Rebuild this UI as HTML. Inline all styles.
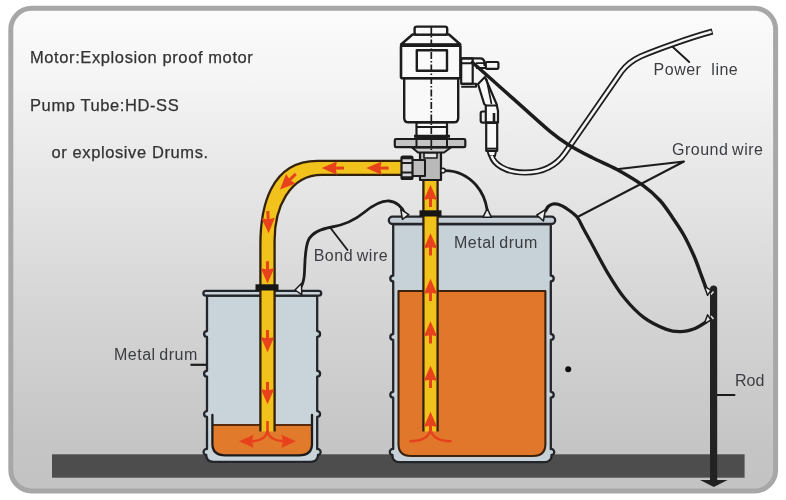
<!DOCTYPE html>
<html lang="en">
<head>
<meta charset="utf-8">
<title>Drum pump grounding diagram</title>
<style>
html,body{margin:0;padding:0;background:#fff;}
body{width:786px;height:500px;overflow:hidden;}
svg{display:block;}
svg text{font-family:"Liberation Sans",Arial,sans-serif;}
.lbl{font-size:16px;fill:#3b3d42;letter-spacing:0.5px;word-spacing:-1.2px;}
.big{font-size:16.5px;fill:#333;letter-spacing:0.6px;stroke:#333;stroke-width:0.25px;}
.ln{fill:none;stroke:#1c1c1c;stroke-linecap:round;stroke-linejoin:round;}
</style>
</head>
<body>
<svg width="786" height="500" viewBox="0 0 786 500">
<defs>
  <linearGradient id="bg" x1="0" y1="0" x2="0" y2="1">
    <stop offset="0.005" stop-color="#fbfbfb"/>
    <stop offset="0.069" stop-color="#f8f8f8"/>
    <stop offset="0.148" stop-color="#f5f5f5"/>
    <stop offset="0.252" stop-color="#ededed"/>
    <stop offset="0.397" stop-color="#e4e4e4"/>
    <stop offset="0.604" stop-color="#d6d6d6"/>
    <stop offset="0.782" stop-color="#cccccc"/>
    <stop offset="0.907" stop-color="#c5c5c5"/>
    <stop offset="0.996" stop-color="#c3c3c3"/>
  </linearGradient>
  <g id="arw">
    <path d="M0 -0.3 L6.7 15 L0 13.6 L-6.7 15 Z"/>
    <rect x="-1.5" y="12" width="3" height="10"/>
  </g>
  <clipPath id="cut2"><rect x="20" y="90" width="200" height="22"/></clipPath>
  <filter id="soft" x="-2%" y="-2%" width="104%" height="104%"><feGaussianBlur stdDeviation="0.5"/></filter>
</defs>

<!-- frame -->
<rect x="0" y="0" width="786" height="500" fill="#ffffff"/>
<g id="art" filter="url(#soft)">
<rect x="10.8" y="8.3" width="764.8" height="482.7" rx="21" ry="21" fill="url(#bg)" stroke="#a7a7a7" stroke-width="5"/>

<!-- ground -->
<rect x="52" y="454.3" width="692.6" height="23.4" fill="#4e4e4e"/>

<!-- ================= SMALL DRUM ================= -->
<g id="smalldrum">
  <path d="M207 295.5 L207 331.1 A2.9 2.9 0 0 0 207 336.9 L207 370.8 A2.9 2.9 0 0 0 207 376.6 L207 411.1 A2.9 2.9 0 0 0 207 416.9 L207 449 A3 3 0 0 0 206.2 455 Q206.2 461.8 213.5 461.8 L310.7 461.8 Q318.0 461.8 318.0 455 A3 3 0 0 0 317.2 449 L317.2 416.9 A2.9 2.9 0 0 0 317.2 411.1 L317.2 376.6 A2.9 2.9 0 0 0 317.2 370.8 L317.2 336.9 A2.9 2.9 0 0 0 317.2 331.1 L317.2 295.5 Z" fill="#c9d3da" stroke="#23262c" stroke-width="2.3" stroke-linejoin="round"/>
  <!-- liquid -->
  <path d="M212.4 425 L312 425 L312 444 Q312 455.3 299 455.3 L225.4 455.3 Q212.4 455.3 212.4 444 Z" fill="#e17a2c"/>
  <path d="M212.4 425 L312 425" stroke="#5a2c0c" stroke-width="2" fill="none"/>
  <!-- liner -->
  <path class="ln" d="M212.4 415 L212.4 444 Q212.4 455.3 225.4 455.3 L299 455.3 Q312 455.3 312 444 L312 415" stroke-width="2.3" stroke="#241a12"/>
  <!-- rim -->
  <rect x="203.4" y="290.9" width="117.8" height="4.8" rx="2.4" fill="#c9d2d9" stroke="#23262c" stroke-width="2.3"/>
</g>

<!-- ================= LARGE DRUM ================= -->
<g id="bigdrum">
  <path d="M393.2 224 L393.2 275.7 A2.9 2.9 0 0 0 393.2 281.5 L393.2 334.1 A2.9 2.9 0 0 0 393.2 339.9 L393.2 391.8 A2.9 2.9 0 0 0 393.2 397.6 L393.2 449 A3 3 0 0 0 392.4 455 Q392.4 462.2 399.7 462.2 L544.3 462.2 Q551.6 462.2 551.6 455 A3 3 0 0 0 550.8 449 L550.8 397.6 A2.9 2.9 0 0 0 550.8 391.8 L550.8 339.9 A2.9 2.9 0 0 0 550.8 334.1 L550.8 281.5 A2.9 2.9 0 0 0 550.8 275.7 L550.8 224 Z" fill="#c6d1d8" stroke="#23262c" stroke-width="2.3" stroke-linejoin="round"/>
  <path d="M398.5 291 L545.4 291 L545.4 444 Q545.4 456 533 456 L411 456 Q398.5 456 398.5 444 Z" fill="#e0772c" stroke="#3c200c" stroke-width="2.1" stroke-linejoin="round"/>
  <rect x="388.8" y="216.7" width="166.4" height="7.3" rx="3.65" fill="#c4cdd4" stroke="#23262c" stroke-width="2.3"/>
</g>

<!-- ================= PIPES ================= -->
<g id="pipes">
  <!-- discharge pipe: pump -> elbow -> small drum -->
  <path d="M402 160.8 L317.4 160.8 C270 160.8 260.4 208 260.4 244.4 L260.4 431.5 L274.6 431.5 L274.6 240.25 C274.6 208.5 289 174.9 322 174.9 L402 174.9 Z" fill="#f1c11a"/>
  <path d="M402 160.8 L317.4 160.8 C270 160.8 260.4 208 260.4 244.4 L260.4 431.5 M274.6 431.5 L274.6 240.25 C274.6 208.5 289 174.9 322 174.9 L402 174.9" fill="none" stroke="#33230c" stroke-width="2.3"/>
  <!-- suction pipe in large drum -->
  <rect x="423.4" y="181" width="14.2" height="250.5" fill="#f1c11a"/>
  <path d="M423.4 181 L423.4 431.5 M437.6 181 L437.6 431.5" fill="none" stroke="#33230c" stroke-width="2.3"/>
  <!-- collars -->
  <rect x="255.5" y="284.3" width="23" height="6.2" fill="#161616"/>
  <rect x="419.5" y="210.3" width="22" height="6.2" fill="#161616"/>
</g>

<!-- ================= FLOW ARROWS ================= -->
<g id="arrows" fill="#e7431e">
  <use href="#arw" transform="translate(366.6 168.1) rotate(-90)"/>
  <use href="#arw" transform="translate(322 168.1) rotate(-90)"/>
  <use href="#arw" transform="translate(280.2 189.4) rotate(-135)"/>
  <use href="#arw" transform="translate(268.6 233) rotate(178)"/>
  <use href="#arw" transform="translate(267.5 283.2) rotate(180)"/>
  <use href="#arw" transform="translate(267.5 352) rotate(180)"/>
  <use href="#arw" transform="translate(267.5 404) rotate(180)"/>
  <use href="#arw" transform="translate(430.5 185)"/>
  <use href="#arw" transform="translate(430.5 233.5)"/>
  <use href="#arw" transform="translate(430.5 279)"/>
  <use href="#arw" transform="translate(430.5 321.5)"/>
  <use href="#arw" transform="translate(430.5 366)"/>
  <use href="#arw" transform="translate(430.5 412)"/>
  <!-- small drum outflow -->
  <g fill="none" stroke="#e7431e" stroke-width="2.6">
    <path d="M267.5 421 L267.5 430 Q266.5 440.5 251 441.3"/>
    <path d="M267.5 430 Q268.5 440.5 284 441.3"/>
    <!-- large drum inflow -->
    <path d="M410.5 441.3 Q427.5 441 430.5 430 Q433.5 441 450.5 441.3" stroke-linecap="round"/>
  </g>
  <path d="M239 441.3 L253.5 434.8 L252 441.3 L253.5 447.8 Z"/>
  <path d="M296 441.3 L281.5 434.8 L283 441.3 L281.5 447.8 Z"/>
</g>

<!-- ================= PUMP / MOTOR ================= -->
<g id="pump" stroke="#1c1c1c" stroke-linejoin="round">
  <!-- body below flange -->
  <path d="M420 152 L441 152 L441 180 L420 180 Z" fill="#b9b9b9" stroke-width="2.2"/>
  <path d="M412 147.5 L451 147.5 L444 152.5 L418 152.5 Z" fill="#d0d0d0" stroke-width="2.0"/>
  <path d="M424 153 L437 153 L437 158 L424 158 Z" fill="#e4e4e4" stroke-width="1.6"/>
  <!-- side outlet -->
  <rect x="412" y="160" width="13" height="16" fill="#bdbdbd" stroke-width="2.0"/>
  <rect x="401.5" y="156.5" width="11" height="22.5" rx="1.5" fill="#d6d6d6" stroke-width="2.2"/>
  <path d="M401.5 163 L412.5 163 M401.5 172.5 L412.5 172.5" fill="none" stroke-width="1.8"/>
  <path d="M401.2 157.6 L412.8 157.6 M401.2 177.9 L412.8 177.9" fill="none" stroke-width="3.4"/>
  <!-- flange -->
  <rect x="394.8" y="139" width="70.5" height="8.2" rx="1.2" fill="#c4c4c4" stroke-width="2.2"/>
  <path d="M416.5 139 L416.5 147 M447 139 L447 147" fill="none" stroke-width="2.0"/>
  <!-- neck -->
  <path d="M416.5 122.5 L447 122.5 L447 138 L416.5 138 Z" fill="#f9f9f9" stroke-width="2.2"/>
  <path d="M416.5 127 L447 127" fill="none" stroke-width="2.0"/><path d="M414 136.3 L450 136.3" fill="none" stroke-width="3"/>
  <!-- lower motor body -->
  <path d="M404.2 78 L458.2 78 L458.2 118 Q458.2 122.3 454 122.3 L408.5 122.3 Q404.2 122.3 404.2 118 Z" fill="#f9f9f9" stroke-width="2.4"/>
  <!-- upper motor body -->
  <rect x="401" y="45.6" width="59.4" height="32.6" rx="1.5" fill="#fafafa" stroke-width="2.6"/>
  <!-- shoulder -->
  <path d="M401 44.5 L412.5 34.5 L449 34.5 L460.4 44.5 Z" fill="#fafafa" stroke-width="2.4"/>
  <path d="M400.5 45.2 L461 45.2" fill="none" stroke-width="3.0"/>
  <!-- cap -->
  <rect x="414.6" y="26.6" width="32.6" height="8" rx="2.2" fill="#f9f9f9" stroke-width="2.4"/>
  <!-- window -->
  <rect x="416.8" y="50.2" width="30.2" height="20.6" fill="none" stroke-width="2.4"/>
  <!-- centre line -->
  <path d="M431.3 27 L431.3 150" fill="none" stroke-width="1.7" stroke-dasharray="7 2 1.5 2"/>
  <!-- switch box -->
  <rect x="461.2" y="58.3" width="11.5" height="25.5" fill="#f9f9f9" stroke-width="2.2"/>
  <path d="M461.2 63.2 L472.7 63.2 M461.2 86.8 L476 86.8 L476 83.8 L461.2 83.8" fill="none" stroke-width="2.0"/>
  <path d="M461.2 58.3 L480 58.3 Q484.5 58.3 484.5 63 L484.5 66" fill="none" stroke-width="2.2"/>
  <rect x="485.8" y="62" width="12.6" height="6.8" rx="1" fill="#f9f9f9" stroke-width="2.2"/>
  <path d="M476 63.2 L486 63.2 M476 68 L486 68" fill="none" stroke-width="1.8"/>
  <!-- handle -->
  <path d="M478 84 L485 77 L496.5 104 L498 111 L498 122.5 L485.8 122.5 L485.8 105.5 L484.2 104 Z" fill="#f9f9f9" stroke-width="2.2"/>
  <path d="M485.8 105.5 L498 105.5" fill="none" stroke-width="2.0"/>
  <path d="M486.5 79 L491.5 104" fill="none" stroke-width="1.7"/>
  <!-- clip -->
  <path d="M485.8 111.5 L482.5 111.5 Q480.7 111.5 480.7 113.5 L480.7 120.5 Q480.7 122.6 482.8 122.6 L498 122.6" fill="none" stroke-width="2.2"/>
  <path d="M494 113 L494 122" fill="none" stroke-width="2.6"/>
  <!-- lower tube of plug -->
  <rect x="486.2" y="122.8" width="11" height="28" fill="#f9f9f9" stroke-width="2.2"/>
  <path d="M486.2 148.6 L497.2 148.6" fill="none" stroke-width="1.9"/>
  <path d="M487.5 151 L496 151 L495 156 L489 156 Z" fill="#f9f9f9" stroke-width="1.9"/>
</g>

<!-- ================= POWER LINE ================= -->
<g id="powerline" fill="none" stroke-linecap="butt" stroke-linejoin="round">
  <path d="M491.5 156 C494 164 505 172.6 525 172.6 C544 172.6 556 166 565 153 L621.5 71.5 Q628.5 62 641 56.2 C657 49.5 690 37.5 712.5 31.5" stroke="#1c1c1c" stroke-width="6"/>
  <path d="M491.5 155.5 C494 164 505 172.6 525 172.6 C544 172.6 556 166 565 153 L621.5 71.5 Q628.5 62 641 56.2 C657 49.5 690 37.5 711.5 31.8" stroke="#f4f4f4" stroke-width="2.6"/>
</g>

<!-- ================= WIRES ================= -->
<g id="wires" class="ln">
  <!-- thick ground wire: motor -> rod -->
  <path d="M472.5 62.5 C475.8 65.4 485.1 73.6 492.0 79.8 C498.9 86.0 504.3 90.8 514.0 99.4 C523.7 108.0 541.0 123.9 550.0 131.4 C559.0 138.9 561.0 140.1 568.0 144.4 C575.0 148.8 583.8 153.3 592.0 157.5 C600.2 161.7 608.5 164.8 617.0 169.5 C625.5 174.2 636.1 180.5 643.3 185.7 C650.5 190.9 655.2 195.3 660.0 200.5 C664.8 205.7 668.1 211.2 672.0 216.8 C675.9 222.4 679.5 227.5 683.2 234.0 C686.9 240.5 691.0 249.2 694.0 256.0 C697.0 262.8 699.2 269.7 701.2 275.0 C703.2 280.3 705.2 285.8 706.0 288.0" stroke-width="3.5"/>
  <!-- drum ground wire -> rod -->
  <path d="M545.4 211.0 C545.9 210.2 547.2 207.5 548.5 206.3 C549.8 205.1 551.4 204.3 553.0 204.0 C554.6 203.7 555.8 203.6 558.0 204.3 C560.2 205.0 562.9 206.1 566.0 208.2 C569.1 210.3 573.9 213.4 576.8 216.8 C579.7 220.2 581.2 224.6 583.5 228.8 C585.8 233.0 586.8 234.7 590.8 242.0 C594.8 249.3 602.0 263.5 607.6 272.8 C613.2 282.1 618.3 290.5 624.4 298.0 C630.5 305.5 637.0 312.4 644.0 317.6 C651.0 322.8 660.3 327.0 666.4 329.4 C672.5 331.8 675.6 331.8 680.4 331.7 C685.2 331.6 690.7 330.1 695.0 328.5 C699.3 326.9 704.2 323.1 706.0 322.0" stroke-width="3.3"/>
  <!-- pump -> drum centre clamp -->
  <path d="M444 170.6 C455 170.4 467 175 476 185 C483 193 486 202 487.2 210" stroke-width="2.8"/>
  <!-- bond wire -->
  <path d="M404.5 213 C402 207 396 201.5 389 201 C380 200.5 372 206 364 212.5 C355 220 346 224.5 332 227 C320 229 312 233 308.5 240 C305 247 305 260 304.5 272 C304.2 279 303 284 300.5 288" stroke-width="2.8"/>
  <!-- leaders -->
  <path d="M330.5 228 L347.5 250" stroke-width="1.9"/>
  <path d="M672.8 47 L689.2 62" stroke-width="1.9"/>
  <path d="M616.5 169.2 L684 161.5 L577.5 217" stroke-width="2"/>
  <path d="M190.5 364.8 L206 364.8" stroke-width="2.2" stroke-linecap="butt"/>
  <path d="M717 395 L734.5 395" stroke-width="2"/>
</g>

<!-- clamps -->
<g id="clamps" fill="#ececec" stroke="#1c1c1c" stroke-width="1.5" stroke-linejoin="round">
  <path d="M400.8 209.3 L408.8 214.6 L402.4 219.4 Z"/>
  <path d="M487.2 208.6 L491.4 217.2 L483 217.2 Z"/>
  <path d="M545.4 209.6 L543.4 221 L536.8 215 Z"/>
  <path d="M301.4 283.4 L301.8 294.6 L295 290 Z"/>
  <circle cx="443" cy="170.6" r="2.3"/>
</g>

<!-- ================= ROD ================= -->
<g id="rod">
  <path d="M710 289 Q710 285.4 713.6 285.4 Q717.2 285.4 717.2 289 L717.2 481 L710 481 Z" fill="#242424"/>
  <path d="M700 480 L727.6 480 L713.8 487 Z" fill="#242424"/>
  <path d="M704.3 286.3 L711 290.2 L707.6 295.4 Z M704.3 323.8 L711 320 L707.6 314.8 Z" fill="#ececec" stroke="#1c1c1c" stroke-width="1.5" stroke-linejoin="round"/>
  <path d="M711 294.5 L713.5 291.5 M711 316 L713.5 319" stroke="#e4e4e4" stroke-width="1.4" fill="none"/>
</g>
<circle cx="568.2" cy="369.3" r="3" fill="#111"/>

<!-- ================= TEXT ================= -->
<g id="labels">
  <text class="big" x="30" y="63">Motor:Explosion proof motor</text>
  <text class="big" x="30" y="110.7" clip-path="url(#cut2)">Pump Tube:HD-SS</text>
  <text class="big" x="51.5" y="158.4">or explosive Drums.</text>
  <text class="lbl" x="653.6" y="75" xml:space="preserve" style="word-spacing:0">Power  line</text>
  <text class="lbl" x="672" y="155">Ground wire</text>
  <text class="lbl" x="313.7" y="260.7">Bond wire</text>
  <text class="lbl" x="454" y="247.6">Metal drum</text>
  <text class="lbl" x="114" y="359.5">Metal drum</text>
  <text class="lbl" x="735" y="385.9" style="letter-spacing:0">Rod</text>
</g>
</g>
</svg>
</body>
</html>
